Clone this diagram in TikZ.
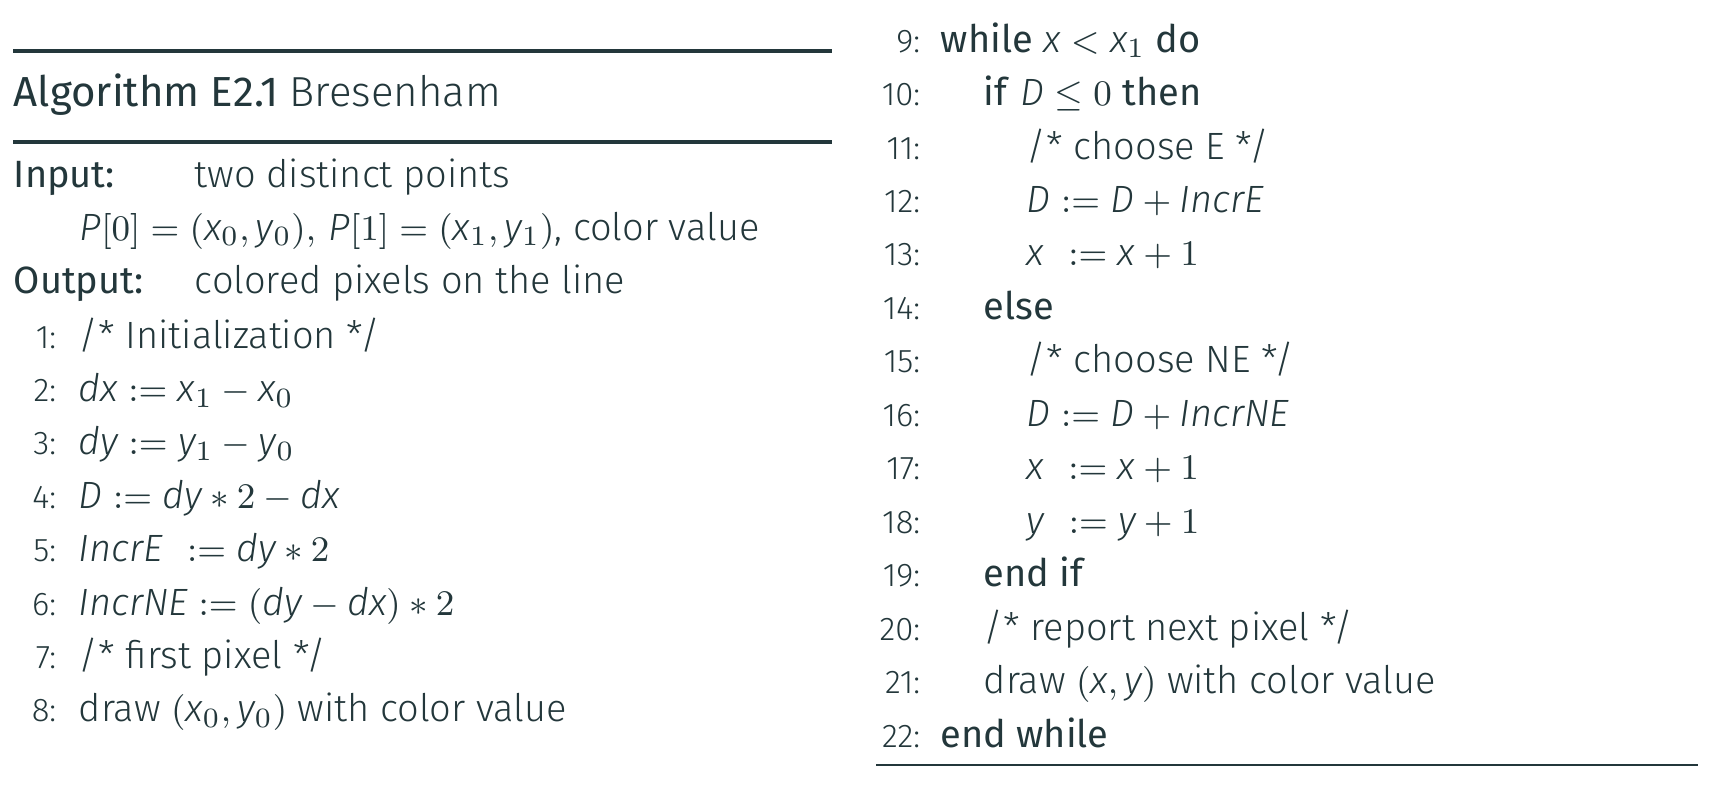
\documentclass[tikz,border=0pt]{standalone}
\usepackage[no-math]{fontspec}
\setmainfont{Fira Sans Light}[BoldFont={Fira Sans}, ItalicFont={Fira Sans Light Italic}, BoldItalicFont={Fira Sans Italic}]
\definecolor{fg}{HTML}{23373B}
\newcommand{\mi}[1]{\smash{\textit{#1}}}
\newcommand{\kw}[1]{\textbf{#1}}
\tikzset{
  txt/.style={anchor=base west, inner sep=0pt, text=fg, font=\fontsize{9.5pt}{11pt}\selectfont},
  lnum/.style={anchor=base east, inner sep=0pt, text=fg, font=\fontsize{8.2pt}{10pt}\selectfont},
  ttl/.style={anchor=base west, inner sep=0pt, text=fg, font=\fontsize{10.5pt}{12pt}\selectfont},
  thickrule/.style={draw=fg, line width=0.9pt},
  thinrule/.style={draw=fg, line width=0.5pt}
}
\begin{document}
\begin{tikzpicture}[x=0.25pt, y=-0.25pt]
\useasboundingbox (0,0) rectangle (1731,794);
% left column
\draw[thickrule] (13,51) -- (832,51);
\node[ttl] (title) at (13,106) {\kw{Algorithm E2.1} Bresenham};
\draw[thickrule] (13,142) -- (832,142);
\node[txt] (inl) at (13,187) {\kw{Input:}};
\node[txt] (inv) at (194,187) {two distinct points};
\node[txt] (inp) at (79,240) {$\mi{P}[0] = (\mi{x}_0, \mi{y}_0),\, \mi{P}[1] = (\mi{x}_1, \mi{y}_1)$, color value};
\node[txt] (outl) at (13,293) {\kw{Output:}};
\node[txt] (outv) at (194,293) {colored pixels on the line};
\node[lnum] (n1) at (57,348) {1:};
\node[txt] (l1) at (78,348) {/* Initialization */};
\node[lnum] (n2) at (57,401.4) {2:};
\node[txt] (l2) at (78,401.4) {$\mi{dx} := \mi{x}_1 - \mi{x}_0$};
\node[lnum] (n3) at (57,454.8) {3:};
\node[txt] (l3) at (78,454.8) {$\mi{dy} := \mi{y}_1 - \mi{y}_0$};
\node[lnum] (n4) at (57,508.2) {4:};
\node[txt] (l4) at (78,508.2) {$\mi{D} := \mi{dy} * 2 - \mi{dx}$};
\node[lnum] (n5) at (57,561.6) {5:};
\node[txt] (l5) at (78,561.6) {$\mi{IncrE}\hspace{3.5pt} := \mi{dy} * 2$};
\node[lnum] (n6) at (57,615) {6:};
\node[txt] (l6) at (78,615) {$\mi{IncrNE} := (\mi{dy} - \mi{dx}) * 2$};
\node[lnum] (n7) at (57,668.4) {7:};
\node[txt] (l7) at (78,668.4) {/* first pixel */};
\node[lnum] (n8) at (57,721.8) {8:};
\node[txt] (l8) at (78,721.8) {draw $(\mi{x}_0, \mi{y}_0)$ with color value};
% right column
\node[lnum] (n9) at (921,52) {9:};
\node[txt] (l9) at (940,52) {\kw{while} $\mi{x} < \mi{x}_1$ \kw{do}};
\node[lnum] (n10) at (921,105.5) {10:};
\node[txt] (l10) at (983,105.5) {\kw{if} $\mi{D} \leq 0$ \kw{then}};
\node[lnum] (n11) at (921,159) {11:};
\node[txt] (l11) at (1026,159) {/* choose E */};
\node[lnum] (n12) at (921,212.4) {12:};
\node[txt] (l12) at (1026,212.4) {$\mi{D} := \mi{D} + \mi{IncrE}$};
\node[lnum] (n13) at (921,265.8) {13:};
\node[txt] (l13) at (1026,265.8) {$\mi{x}\hspace{3.5pt} := \mi{x} + 1$};
\node[lnum] (n14) at (921,319.3) {14:};
\node[txt] (l14) at (983,319.3) {\kw{else}};
\node[lnum] (n15) at (921,372.8) {15:};
\node[txt] (l15) at (1026,372.8) {/* choose NE */};
\node[lnum] (n16) at (921,426.2) {16:};
\node[txt] (l16) at (1026,426.2) {$\mi{D} := \mi{D} + \mi{IncrNE}$};
\node[lnum] (n17) at (921,479.7) {17:};
\node[txt] (l17) at (1026,479.7) {$\mi{x}\hspace{3.5pt} := \mi{x} + 1$};
\node[lnum] (n18) at (921,533.1) {18:};
\node[txt] (l18) at (1026,533.1) {$\mi{y}\hspace{3.5pt} := \mi{y} + 1$};
\node[lnum] (n19) at (921,586.6) {19:};
\node[txt] (l19) at (983,586.6) {\kw{end if}};
\node[lnum] (n20) at (921,640) {20:};
\node[txt] (l20) at (983,640) {/* report next pixel */};
\node[lnum] (n21) at (921,693.5) {21:};
\node[txt] (l21) at (983,693.5) {draw $(\mi{x}, \mi{y})$ with color value};
\node[lnum] (n22) at (921,747) {22:};
\node[txt] (l22) at (940,747) {\kw{end while}};
\draw[thinrule] (876,765) -- (1698,765);
\end{tikzpicture}
\end{document}
